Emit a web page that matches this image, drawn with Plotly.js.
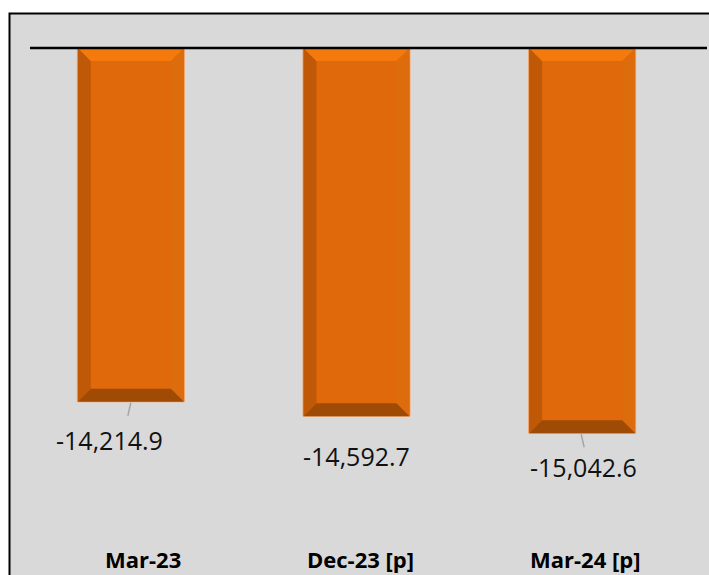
<!DOCTYPE html>
<html>
<head>
<meta charset="utf-8">
<script src="https://cdn.plot.ly/plotly-3.0.1.min.js"></script>
<style>html,body{margin:0;padding:0;background:#fff;}#chart{width:709px;height:575px;}</style>
</head>
<body>
<div id="chart"></div>
<script>
// ---- data ----
const categories = ['Mar-23', 'Dec-23 [p]', 'Mar-24 [p]'];
const values = [-14214.9, -14592.7, -15042.6];
const valueLabels = ['-14,214.9', '-14,592.7', '-15,042.6'];

// ---- layout constants ----
const W = 709, H = 575;
const M = {l: 18, r: 14, t: 48, b: 32};
const Y_TOP = -4900;
const PX_PER_UNIT = 0.03798;
const X_RANGE = [-0.5, 2.5];
const BAR_W = 0.474;
const BEVEL_PX = 13;

const plotW = W - M.l - M.r, plotH = H - M.t - M.b;
const Y_MIN = Y_TOP - plotH / PX_PER_UNIT;
const pxPerX = plotW / (X_RANGE[1] - X_RANGE[0]);
const pxPerY = PX_PER_UNIT;
const dx = BEVEL_PX / pxPerX, dy = BEVEL_PX / pxPerY;

const COL = {face: '#DF690B', top: '#F57A0E', left: '#BF5908', right: '#DD6C0C', bottom: '#A04B05', edge: '#F2A46A'};

const xs = categories.map((c, i) => i);
const traces = [];
traces.push({
  type: 'bar', x: xs, y: values.map(v => v - Y_TOP), base: Y_TOP, width: BAR_W,
  marker: {color: COL.face, line: {color: COL.edge, width: 1}}, hoverinfo: 'skip'
});
function poly(px, py, color) {
  traces.push({type: 'scatter', mode: 'lines', x: px.concat([px[0]]), y: py.concat([py[0]]),
    fill: 'toself', fillcolor: color, line: {width: 0, color: color}, hoverinfo: 'skip', showlegend: false});
}
xs.forEach((c, i) => {
  const hw = BAR_W / 2, T = Y_TOP, B = values[i];
  const L = c - hw + 0.002, R = c + hw - 0.002;
  poly([L, L + dx, L + dx, L], [T, T - dy, B + dy, B], COL.left);
  poly([R, R - dx, R - dx, R], [T, T - dy, B + dy, B], COL.right);
  poly([L, R, R - dx, L + dx], [T, T, T - dy, T - dy], COL.top);
  poly([L, R, R - dx, L + dx], [B, B, B + dy, B + dy], COL.bottom);
});

const labelShift = [{x: -21.5, y: -38}, {x: 0, y: -40}, {x: 1.5, y: -34}];
const catShift = [12.5, 3.5, 3];
const annotations = xs.map((c, i) => ({
  x: c, y: values[i], xref: 'x', yref: 'y', text: valueLabels[i], showarrow: false,
  xshift: labelShift[i].x, yshift: labelShift[i].y,
  font: {family: 'Open Sans, sans-serif', size: 25, color: '#111111'}
})).concat(xs.map((c, i) => ({
  x: c, y: 0, xref: 'x', yref: 'paper', yanchor: 'top', text: '<b>' + categories[i] + '</b>',
  showarrow: false, xshift: catShift[i], yshift: 1,
  font: {family: 'Open Sans, sans-serif', size: 22, color: '#000'}
})));

const leaders = [{i: 0, x0: 0, x1: -3, y0: -1, y1: -14}, {i: 2, x0: -1, x1: 2, y0: -1, y1: -14}];

const shapes = [
  {type: 'rect', xref: 'paper', yref: 'paper', layer: 'below',
   x0: (9.5 - M.l) / plotW, x1: 1.2, y0: -0.2, y1: (H - M.b - 13.5) / plotH,
   fillcolor: '#D9D9D9', line: {color: '#000', width: 2}},
  {type: 'line', xref: 'paper', yref: 'paper', layer: 'above',
   x0: (30 - M.l) / plotW, x1: (707 - M.l) / plotW, y0: 1, y1: 1,
   line: {color: '#000', width: 2.5}}
].concat(leaders.map(d => ({
  type: 'line', xref: 'x', yref: 'y', xsizemode: 'pixel', ysizemode: 'pixel',
  xanchor: xs[d.i], yanchor: values[d.i], x0: d.x0, x1: d.x1, y0: d.y0, y1: d.y1,
  line: {color: '#A6A6A6', width: 1.5}
})));

const layout = {
  width: W, height: H, margin: M, showlegend: false,
  paper_bgcolor: '#FFFFFF', plot_bgcolor: 'rgba(0,0,0,0)',
  xaxis: {range: X_RANGE, tickvals: xs, showticklabels: false, showgrid: false, zeroline: false,
          showline: false, ticks: '', fixedrange: true},
  yaxis: {range: [Y_MIN, Y_TOP], visible: false, fixedrange: true},
  shapes: shapes, annotations: annotations, barmode: 'overlay'
};
Plotly.newPlot('chart', traces, layout, {displayModeBar: false, staticPlot: true});
</script>
</body>
</html>
